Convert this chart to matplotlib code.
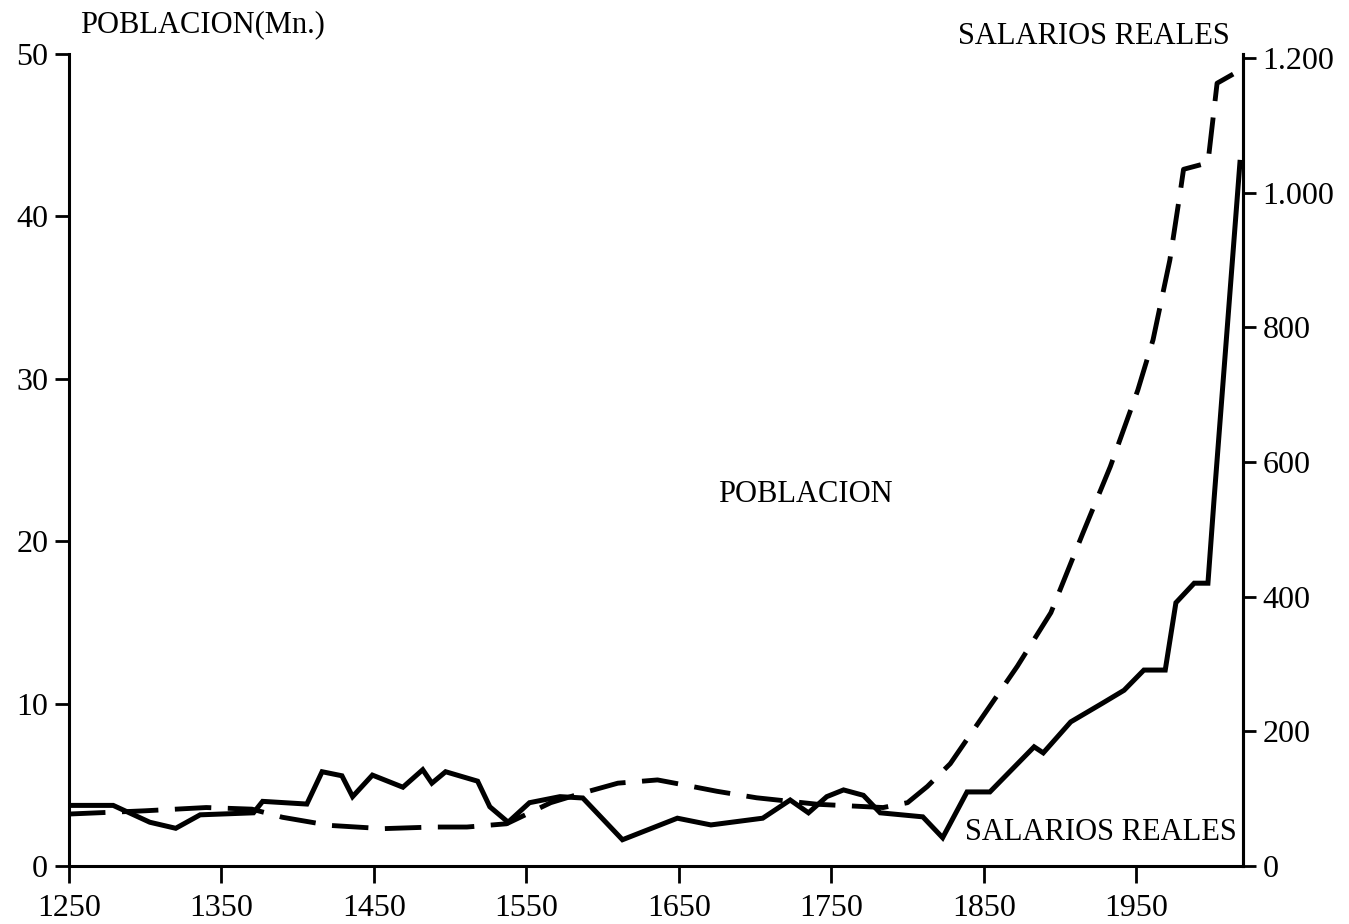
import matplotlib
matplotlib.use('Agg')
import matplotlib.pyplot as plt

# salarios reales (eje derecho)
wage_years = [1250, 1279, 1303, 1320, 1336, 1371, 1377, 1406, 1416, 1429, 1436, 1449,
              1469, 1482, 1488, 1497, 1518, 1526, 1538, 1552, 1572, 1587, 1613, 1649,
              1671, 1705, 1723, 1735, 1747, 1758, 1771, 1782, 1810, 1823, 1839, 1854,
              1883, 1889, 1907, 1928, 1942, 1955, 1969, 1976, 1988, 1997, 2001, 2018]
wages = [90, 90, 65, 56, 76, 79, 96, 92, 140, 134, 103, 135,
         117, 143, 123, 140, 126, 88, 65, 94, 103, 101, 39, 71,
         61, 71, 98, 79, 103, 113, 105, 79, 73, 42, 110, 110,
         177, 168, 214, 242, 261, 291, 291, 391, 420, 420, 544, 1045]

# poblacion en millones (eje izquierdo)
pop_years = [1250, 1300, 1340, 1370, 1390, 1421, 1456, 1489, 1511, 1537, 1566, 1587,
             1610, 1636, 1653, 1675, 1701, 1741, 1784, 1800, 1813, 1828, 1850, 1872,
             1894, 1915, 1933, 1951, 1961, 1972, 1979, 1981, 1997, 2003, 2018]
population = [3.2, 3.4, 3.6, 3.5, 3.0, 2.5, 2.3, 2.4, 2.4, 2.6, 3.9, 4.5,
              5.1, 5.3, 5.0, 4.6, 4.2, 3.8, 3.6, 3.9, 4.9, 6.3, 9.3, 12.3,
              15.6, 20.5, 24.6, 29.3, 32.4, 37.3, 41.6, 42.9, 43.3, 48.2, 49.0]

x_ticks = [1250, 1350, 1450, 1550, 1650, 1750, 1850, 1950]
left_ticks = [0, 10, 20, 30, 40, 50]
right_ticks = [0, 200, 400, 600, 800, 1000, 1200]
right_labels = ['0', '200', '400', '600', '800', '1.000', '1.200']

plt.rcParams['font.family'] = ['Liberation Serif', 'DejaVu Serif']
fs = 23
lfs = 22

fig = plt.figure(figsize=(13.49, 9.24), dpi=100)
ax = fig.add_axes([69/1349, 1-866/924, (1243-69)/1349, (866-54)/924])
ax2 = ax.twinx()

ax.plot(pop_years, population, color='black', lw=3.5, ls=(0, (7.5, 3.4)),
        solid_capstyle='butt', dash_capstyle='butt')
ax2.plot(wage_years, wages, color='black', lw=3.6, solid_joinstyle='miter')

ax.set_xlim(1250, 2020)
ax.set_ylim(0, 50)
ax2.set_ylim(0, 1200 * 812 / 808)

ax.set_xticks(x_ticks)
ax.set_yticks(left_ticks)
ax2.set_yticks(right_ticks)
ax2.set_yticklabels(right_labels)

for a in (ax, ax2):
    a.spines['top'].set_visible(False)
    for s in a.spines.values():
        s.set_linewidth(2.2)
ax2.spines['left'].set_visible(False)
ax2.spines['bottom'].set_visible(False)

ax.tick_params(axis='x', direction='out', length=12, width=2, pad=8, labelsize=fs)
ax.tick_params(axis='y', direction='out', length=10, width=2, pad=5, labelsize=fs)
ax2.tick_params(axis='y', direction='out', length=9, width=2, pad=5, labelsize=fs)

fig.text(80/1349, 1-25/924, 'POBLACION(Mn.)', fontsize=lfs, va='center', ha='left')
fig.text(1230/1349, 1-36/924, 'SALARIOS REALES', fontsize=lfs, va='center', ha='right')
fig.text(805/1349, 1-495/924, 'POBLACION', fontsize=lfs, va='center', ha='center')
fig.text(1237/1349, 1-833/924, 'SALARIOS REALES', fontsize=lfs, va='center', ha='right')

fig.savefig('out.png', dpi=100)
